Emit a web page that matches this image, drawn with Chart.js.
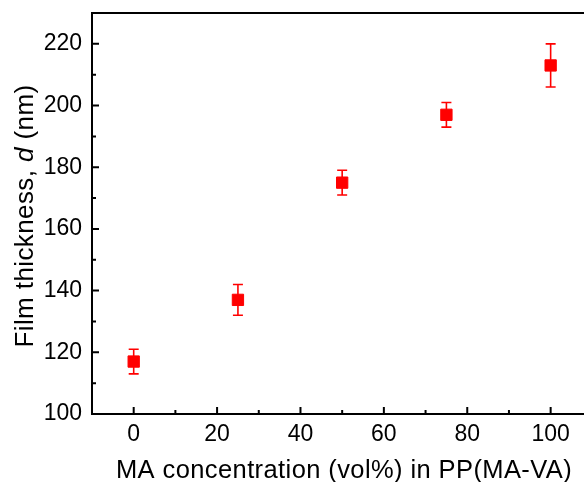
<!DOCTYPE html>
<html>
<head>
<meta charset="utf-8">
<script src="https://cdn.jsdelivr.net/npm/chart.js@4.4.1/dist/chart.umd.min.js"></script>
<style>
  html, body { margin: 0; padding: 0; background: #fff; }
  #wrap { width: 584px; height: 482px; }
</style>
</head>
<body>
<div id="wrap"><canvas id="thicknessChart"></canvas></div>
<script>
// MA concentration vs film thickness
const maConc = [0, 25, 50, 75, 100];
const thickness = [117, 137, 175, 197, 213];
const thicknessErr = [4, 5, 4, 4, 7];

const xTicks = [0, 20, 40, 60, 80, 100];
const xMinorTicks = [10, 30, 50, 70, 90];
const yTicks = [100, 120, 140, 160, 180, 200, 220];
const yMinorTicks = [110, 130, 150, 170, 190, 210];

const FONT = '"Liberation Sans", Arial, sans-serif';
const RED = '#ff0000';

// error bars, axis frame, inward ticks and titles
const decoPlugin = {
  id: 'deco',
  beforeDatasetsDraw(chart) {
    const ctx = chart.ctx, x = chart.scales.x, y = chart.scales.y;
    ctx.save();
    ctx.strokeStyle = RED;
    ctx.lineWidth = 1.6;
    maConc.forEach((v, i) => {
      const px = x.getPixelForValue(v);
      const top = y.getPixelForValue(thickness[i] + thicknessErr[i]);
      const bot = y.getPixelForValue(thickness[i] - thicknessErr[i]);
      ctx.beginPath();
      ctx.moveTo(px, top); ctx.lineTo(px, bot);
      ctx.moveTo(px - 5, top); ctx.lineTo(px + 5, top);
      ctx.moveTo(px - 5, bot); ctx.lineTo(px + 5, bot);
      ctx.stroke();
    });
    ctx.restore();
  },
  afterDraw(chart) {
    const ctx = chart.ctx, a = chart.chartArea;
    const x = chart.scales.x, y = chart.scales.y;
    ctx.save();
    ctx.strokeStyle = '#000';
    ctx.lineWidth = 2;
    ctx.beginPath();
    ctx.moveTo(a.right + 2, a.top); ctx.lineTo(a.left, a.top);
    ctx.lineTo(a.left, a.bottom); ctx.lineTo(a.right + 2, a.bottom);
    ctx.stroke();

    ctx.beginPath();
    xTicks.forEach(v => { const p = x.getPixelForValue(v); ctx.moveTo(p, a.bottom); ctx.lineTo(p, a.bottom - 7); });
    xMinorTicks.forEach(v => { const p = x.getPixelForValue(v); ctx.moveTo(p, a.bottom); ctx.lineTo(p, a.bottom - 4); });
    yTicks.forEach(v => { const p = y.getPixelForValue(v); ctx.moveTo(a.left, p); ctx.lineTo(a.left + 7, p); });
    yMinorTicks.forEach(v => { const p = y.getPixelForValue(v); ctx.moveTo(a.left, p); ctx.lineTo(a.left + 4, p); });
    ctx.stroke();

    // titles
    ctx.fillStyle = '#000';
    ctx.textBaseline = 'alphabetic';
    ctx.letterSpacing = '0.4px';
    const xt = 'MA concentration (vol%) in PP(MA-VA)';
    ctx.font = '25.5px ' + FONT;
    ctx.textAlign = 'center';
    ctx.fillText(xt, 344, 478);

    const parts = [['Film thickness, ', ''], ['d', 'italic '], [' (nm)', '']];
    let total = 0;
    parts.forEach(p => { ctx.font = p[1] + '26px ' + FONT; total += ctx.measureText(p[0]).width; });
    ctx.translate(33, 216);
    ctx.rotate(-Math.PI / 2);
    ctx.textAlign = 'left';
    let cx = -total / 2;
    parts.forEach(p => {
      ctx.font = p[1] + '26px ' + FONT;
      ctx.fillText(p[0], cx, 0);
      cx += ctx.measureText(p[0]).width;
    });
    ctx.restore();
  }
};

new Chart(document.getElementById('thicknessChart'), {
  type: 'scatter',
  data: {
    datasets: [{
      data: maConc.map((v, i) => ({ x: v, y: thickness[i] })),
      pointStyle: 'rect',
      pointRadius: 8,
      pointHoverRadius: 8,
      backgroundColor: RED,
      borderColor: RED,
      borderWidth: 1
    }]
  },
  options: {
    responsive: true,
    maintainAspectRatio: false,
    animation: false,
    layout: { autoPadding: false, padding: { top: 13, right: 0, left: 0, bottom: 0 } },
    plugins: { legend: { display: false }, tooltip: { enabled: false } },
    scales: {
      x: {
        type: 'linear', min: -10, max: 108,
        grid: { display: false, drawTicks: false },
        border: { display: false },
        afterBuildTicks: s => { s.ticks = xTicks.map(v => ({ value: v })); },
        afterFit: s => { s.height = 68; s.paddingLeft = 0; s.paddingRight = 0; },
        ticks: { color: '#000', font: { family: FONT, size: 23 }, padding: 7, maxRotation: 0 }
      },
      y: {
        type: 'linear', min: 100, max: 230,
        grid: { display: false, drawTicks: false },
        border: { display: false },
        afterBuildTicks: s => { s.ticks = yTicks.map(v => ({ value: v })); },
        afterFit: s => { s.width = 92; s.paddingTop = 0; s.paddingBottom = 0; },
        ticks: { color: '#000', font: { family: FONT, size: 23 }, padding: 10 }
      }
    }
  },
  plugins: [decoPlugin]
});
</script>
</body>
</html>
